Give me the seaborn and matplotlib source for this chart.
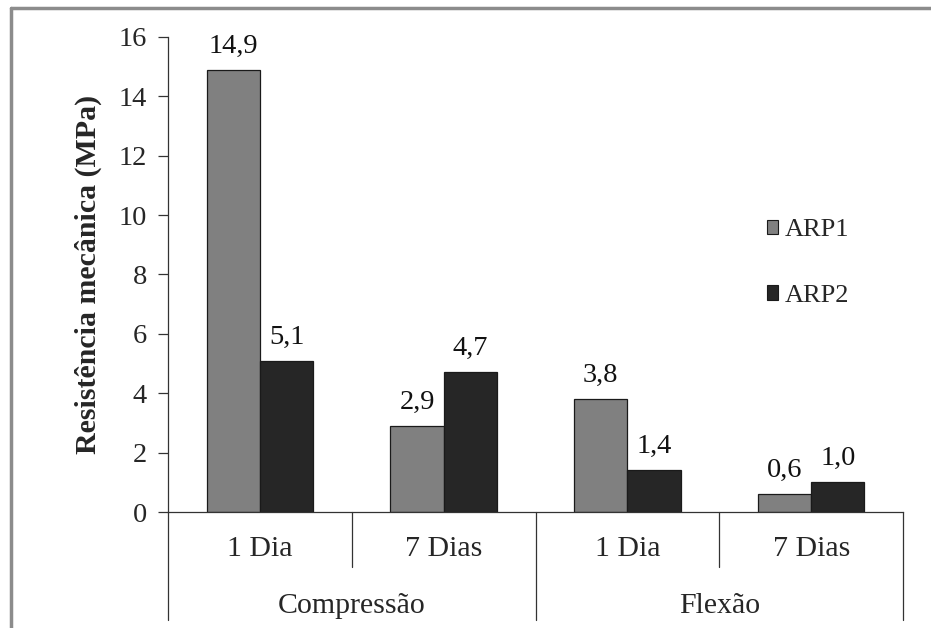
import pandas as pd
import matplotlib
matplotlib.use('Agg')
import matplotlib.pyplot as plt
import seaborn as sns
from matplotlib.lines import Line2D
from matplotlib.patches import Patch
import matplotlib.transforms as mtransforms

# Data
ensaios = ['Compressão', 'Flexão']
idades = ['1 Dia', '7 Dias']
categorias = ['Compressão 1 Dia', 'Compressão 7 Dias', 'Flexão 1 Dia', 'Flexão 7 Dias']
arp1 = [14.9, 2.9, 3.8, 0.6]
arp2 = [5.1, 4.7, 1.4, 1.0]
series = ['ARP1', 'ARP2']
cores = ['#808080', '#262626']

df = pd.DataFrame({
    'categoria': categorias * 2,
    'valor': arp1 + arp2,
    'serie': ['ARP1'] * 4 + ['ARP2'] * 4,
})

sns.set_style('white')
plt.rcParams['font.family'] = ['Liberation Serif', 'DejaVu Serif']

fig = plt.figure(figsize=(9.31, 6.28), dpi=100)
ax = fig.add_axes([0.1805, 0.1847, 0.7895, 0.7564])

sns.barplot(data=df, x='categoria', y='valor', hue='serie', order=categorias,
            hue_order=series, palette=cores, saturation=1, width=0.58,
            edgecolor='#1a1a1a', linewidth=0.9, ax=ax)

# data labels, comma as decimal separator
for cont in ax.containers:
    labels = [f'{b.get_height():.1f}'.replace('.', ',') for b in cont]
    ax.bar_label(cont, labels=labels, padding=8, fontsize=20.5, color='#111111')

ax.set_ylim(0, 16)
ax.set_xlim(-0.5, 3.5)
ax.set_yticks(range(0, 17, 2))
ax.tick_params(axis='y', direction='out', length=7, width=0.9, color='#333333',
               labelsize=20.5, pad=8, left=True)
ax.tick_params(axis='x', length=0, labelbottom=False)
ax.set_xlabel('')
ax.set_ylabel('Resistência mecânica (MPa)', fontsize=21.5, fontweight='bold', labelpad=12)

for s in ['top', 'right']:
    ax.spines[s].set_visible(False)
for s in ['left', 'bottom']:
    ax.spines[s].set_color('#333333')
    ax.spines[s].set_linewidth(0.9)

# multi-level category axis
trans = mtransforms.blended_transform_factory(ax.transData, ax.transAxes)
for i, cat in enumerate(categorias):
    ax.text(i, -0.078, cat.split(' ', 1)[1], transform=trans, ha='center', va='center',
            fontsize=21.5, clip_on=False)
for j, ens in enumerate(ensaios):
    ax.text(j * 2 + 0.5, -0.198, ens, transform=trans, ha='center', va='center',
            fontsize=21.5, clip_on=False)
for xb in [-0.5, 0.5, 1.5, 2.5, 3.5]:
    y0 = -0.227 if xb in (-0.5, 1.5, 3.5) else -0.116
    ax.add_line(Line2D([xb, xb], [0, y0], transform=trans, color='#333333',
                       lw=0.9, clip_on=False))

# legend
handles = [Patch(facecolor=c, edgecolor='#1a1a1a', linewidth=0.8) for c in cores]
ax.legend(handles, series, loc='center left', bbox_to_anchor=(0.8, 0.524),
          frameon=False, fontsize=19, handlelength=0.45, handleheight=0.45,
          handletextpad=0.25, labelspacing=1.65, borderaxespad=0)

# outer frame
fig.add_artist(Line2D([0.0118, 0.0118], [0, 0.9875], transform=fig.transFigure,
                      color='#8c8c8c', lw=2.5))
fig.add_artist(Line2D([0.0118, 1.0], [0.9875, 0.9875], transform=fig.transFigure,
                      color='#8c8c8c', lw=2.5))

fig.savefig('out.png', dpi=100)
